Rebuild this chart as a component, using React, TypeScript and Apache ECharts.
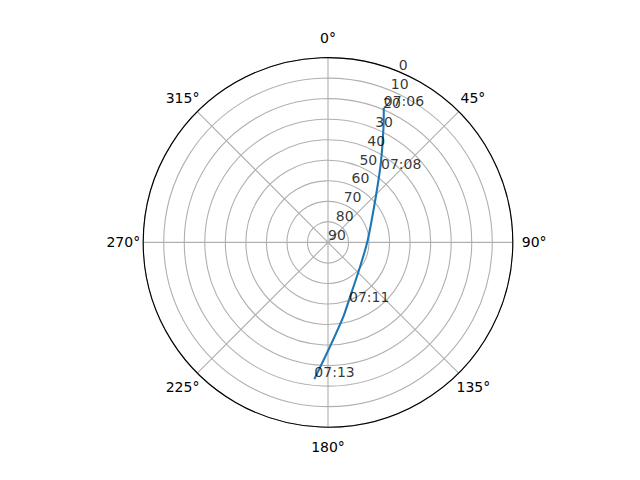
import { useEffect, useRef } from 'react'
import * as echarts from 'echarts'

// Satellite pass sky plot: azimuth clockwise from north, elevation 90 at centre
const AZIMUTH = [22.5, 25.9, 33.3, 45.4, 86.5, 127.2, 160, 168.4, 179.8, 185.7]
const ELEVATION = [19, 28.2, 43, 57.1, 70.6, 70.4, 60.1, 53.0, 37.6, 23.1]

const TIME_LABELS = ['07:06', '07:08', '07:11', '07:13']
const TIME_AZIMUTH = [22.5, 36.6, 161.2, 185.7]
const TIME_ELEVATION = [19, 46.7, 58.3, 23.1]

const RADIAL_TICKS = [0, 10, 20, 30, 40, 50, 60, 70, 80, 90]
const RADIAL_LABEL_ANGLE = 22.5

const FONT = 'DejaVu Sans'
const GRID = '#b0b0b0'

// matplotlib centres the theta labels; echarts anchors them by an edge, so nudge each one
const angleLabelStyle = (v: number) => {
  if (v === 0 || v === 180) return 'tb'
  if (v === 90) return 'r90'
  if (v === 270) return 'l270'
  if (v === 45) return 'd45'
  return 'diag'
}

const App: React.FC = () => {
  const chartRef = useRef<HTMLDivElement | null>(null)

  useEffect(() => {
    if (!chartRef.current) return
    const chart = echarts.init(chartRef.current, null, { renderer: 'svg' })

    const base = { fontSize: 14, fontFamily: FONT, color: '#000000' }

    const option: echarts.EChartsOption = {
      animation: false,
      backgroundColor: '#ffffff',
      polar: { center: [328, 242.4], radius: 184.8 },
      angleAxis: {
        type: 'value',
        min: 0,
        max: 360,
        interval: 45,
        startAngle: 90,
        clockwise: true,
        z: 2,
        axisLine: { show: true, lineStyle: { color: '#000000', width: 1.1 } },
        axisTick: { show: false },
        splitLine: { show: true, lineStyle: { color: GRID, width: 1.1 } },
        axisLabel: {
          margin: -3,
          ...base,
          formatter: (v: number) => (v === 360 ? '' : `{${angleLabelStyle(v)}|${v}°}`),
          rich: {
            tb: { ...base, lineHeight: 45 },
            r90: { ...base, padding: [0, 0, 0, 12] },
            l270: { ...base, padding: [0, 6, 0, 0] },
            d45: { ...base, lineHeight: 32, padding: [0, 0, 0, 4] },
            diag: { ...base, lineHeight: 32 },
          },
        },
      },
      radiusAxis: {
        type: 'value',
        min: 0,
        max: 90,
        interval: 10,
        inverse: true,
        axisLine: { show: false },
        axisTick: { show: false },
        axisLabel: { show: false },
        splitLine: { show: true, lineStyle: { color: GRID, width: 1.1 } },
      },
      series: [
        {
          type: 'line',
          coordinateSystem: 'polar',
          data: AZIMUTH.map((az, i) => [ELEVATION[i], az]),
          showSymbol: false,
          symbol: 'none',
          smooth: 0.3,
          lineStyle: { color: '#1f77b4', width: 2.1 },
          z: 3,
        },
        {
          type: 'scatter',
          coordinateSystem: 'polar',
          silent: true,
          symbolSize: 0,
          data: RADIAL_TICKS.map(r => [r, RADIAL_LABEL_ANGLE]),
          label: {
            show: true,
            position: [0, 0],
            align: 'left',
            verticalAlign: 'bottom',
            ...base,
            formatter: (p: any) => String(p.value[0]),
          },
          z: 4,
        },
        {
          type: 'scatter',
          coordinateSystem: 'polar',
          silent: true,
          symbolSize: 0,
          data: TIME_LABELS.map((t, i) => ({ name: t, value: [TIME_ELEVATION[i], TIME_AZIMUTH[i]] })),
          label: {
            show: true,
            position: [0, 0],
            align: 'left',
            verticalAlign: 'bottom',
            ...base,
            formatter: (p: any) => p.name,
          },
          z: 5,
        },
      ],
    }

    chart.setOption(option)
    return () => {
      chart.dispose()
    }
  }, [])

  return (
    <div
      ref={chartRef}
      style={{ position: 'fixed', left: 0, top: 0, width: 640, height: 480 }}
    />
  )
}

export default App
